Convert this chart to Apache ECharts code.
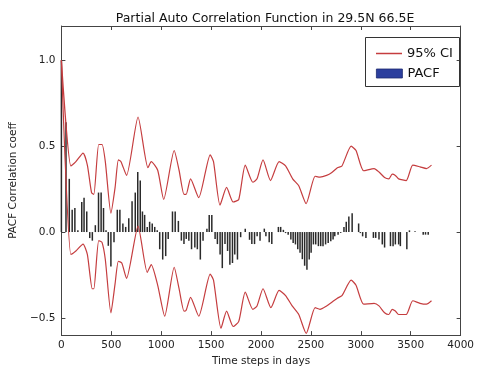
<!DOCTYPE html>
<html>
<head>
<meta charset="utf-8">
<script src="https://cdn.jsdelivr.net/npm/echarts@6/dist/echarts.min.js"></script>
<style>
html,body{margin:0;padding:0;background:#fff;}
#chart{width:477px;height:372px;}
</style>
</head>
<body>
<div id="chart"></div>
<script>
// ---- data ----
const titleText = 'Partial Auto Correlation Function in 29.5N 66.5E';
const xAxisName = 'Time steps in days';
const yAxisName = 'PACF Correlation coeff';
const yTickValues = [-0.5, 0, 0.5, 1.0];

const pacfLags = [0,46,79,108,135,165,204,227,254,284,310,340,372,398,422,447,470,496,527,560,586,616,644,675,708,740,765,790,812,834,860,884,910,935,960,985,1015,1045,1070,
  1113,1140,1172,1202,1228,1251,1277,1304,1337,1362,1392,1419,1458,1481,1507,1540,1563,1590,1612,1639,1665,1688,1714,1737,1764,1796,1842,1885,1908,1935,1961,
  1990,2033,2049,2082,2108,2174,2197,2224,2246,2272,2299,2322,2345,2368,2391,2414,2437,2460,2483,2502,2525,2548,2575,2598,2621,2647,2673,2699,2722,2739,2772,2798,
  2831,2854,2880,2913,2978,2995,3018,3051,3126,3149,3182,3215,3238,3297,3323,3346,3379,3396,3461,3487,3543,3625,3648,3675];
const pacfValues = [1.0,0.64,0.31,0.13,0.14,0.01,0.175,0.20,0.12,-0.035,-0.05,0.04,0.23,0.23,0.14,0.01,-0.08,-0.20,-0.06,0.13,0.13,0.05,0.03,0.08,0.18,0.23,0.35,0.30,0.12,0.10,0.03,0.06,0.05,0.03,0.01,-0.10,-0.16,-0.14,-0.04,
  0.12,0.12,0.065,-0.05,-0.07,-0.04,-0.05,-0.10,-0.09,-0.10,-0.16,-0.05,0.02,0.10,0.10,-0.04,-0.07,-0.13,-0.21,-0.07,-0.11,-0.19,-0.18,-0.13,-0.16,-0.03,0.02,-0.045,-0.07,-0.07,-0.025,
  -0.05,0.02,-0.025,-0.06,-0.07,0.03,0.03,0.013,-0.006,-0.015,-0.044,-0.063,-0.072,-0.10,-0.12,-0.158,-0.196,-0.22,-0.16,-0.12,-0.072,-0.072,-0.082,-0.082,-0.082,-0.072,-0.063,-0.053,-0.044,-0.025,-0.015,-0.005,
  0.03,0.06,0.09,0.11,0.05,-0.006,-0.025,-0.034,-0.034,-0.034,-0.044,-0.072,-0.09,-0.082,-0.082,-0.072,-0.072,-0.082,-0.10,0.01,0.005,-0.015,-0.015,-0.015];

const ciUpperX = [0,95,145,217,260,302,325,374,407,440,496,538,571,597,653,768,867,900,965,1025,1130,1179,1228,1250,1294,1376,1491,1524,1589,1655,1721,1777,1842,1918,1960,2020,2095,2181,2246,2317,2378,2452,2542,2591,2657,2706,2765,2811,2903,2952,3028,3133,3182,3238,3281,3314,3346,3379,3455,3520,3593,3658,3708];
const ciUpperY = [1.0,0.385,0.41,0.46,0.39,0.23,0.22,0.51,0.51,0.41,0.11,0.26,0.42,0.41,0.33,0.67,0.375,0.41,0.36,0.19,0.475,0.36,0.22,0.22,0.31,0.20,0.45,0.41,0.157,0.26,0.175,0.19,0.39,0.29,0.31,0.42,0.30,0.41,0.385,0.31,0.27,0.166,0.325,0.32,0.33,0.345,0.375,0.385,0.50,0.475,0.357,0.37,0.35,0.318,0.31,0.337,0.33,0.31,0.30,0.39,0.38,0.37,0.39];

const ciLowerX = [0,35,95,145,217,260,309,325,374,407,440,496,538,571,605,653,768,860,900,965,1035,1130,1179,1228,1250,1294,1376,1491,1524,1599,1655,1721,1777,1842,1918,1960,2020,2099,2181,2246,2312,2378,2453,2542,2591,2657,2706,2765,2811,2903,2952,3028,3133,3182,3238,3281,3314,3346,3379,3455,3520,3593,3658,3708];
const ciLowerY = [1.0,0.45,-0.13,-0.11,-0.07,-0.13,-0.33,-0.33,-0.05,-0.06,-0.16,-0.47,-0.30,-0.17,-0.18,-0.27,0.035,-0.235,-0.19,-0.31,-0.49,-0.205,-0.33,-0.46,-0.455,-0.38,-0.49,-0.245,-0.28,-0.56,-0.46,-0.55,-0.52,-0.35,-0.45,-0.43,-0.33,-0.44,-0.34,-0.37,-0.43,-0.48,-0.59,-0.44,-0.45,-0.43,-0.41,-0.385,-0.37,-0.28,-0.31,-0.42,-0.415,-0.43,-0.47,-0.48,-0.45,-0.46,-0.48,-0.48,-0.40,-0.415,-0.42,-0.40];

// ---- chart ----
const zip = (xs, ys) => xs.map((x, i) => [x, ys[i]]);
const FONT = 'DejaVu Sans';
const RED = '#c53d3f';
const AXIS = '#444';
const chart = echarts.init(document.getElementById('chart'), null, {renderer: 'canvas'});

const baseX = {
  type: 'value', min: 0, max: 4000, interval: 500,
  axisLine: {show: true, onZero: false, lineStyle: {color: AXIS, width: 1}},
  axisTick: {show: true, inside: true, length: 4, lineStyle: {color: AXIS}},
  splitLine: {show: false}
};
const baseY = {
  type: 'value', min: -0.6, max: 1.2,
  axisLine: {show: true, onZero: false, lineStyle: {color: AXIS, width: 1}},
  axisTick: {show: true, inside: true, length: 4, lineStyle: {color: AXIS}, customValues: yTickValues},
  splitLine: {show: false}
};
const fmtY = v => (Math.abs(v) < 1e-9 ? '0.0' : v.toFixed(1).replace('-', '\u2212'));
const fmtX = v => String(Math.round(v));

chart.setOption({
  animation: false,
  backgroundColor: '#fff',
  title: {
    text: titleText, left: 260, top: 7, textAlign: 'center',
    textStyle: {fontFamily: FONT, fontSize: 12.5, fontWeight: 'normal', color: '#111'}
  },
  grid: {left: 57, top: 26, right: 14, bottom: 31, containLabel: false},
  legend: [
    {
      data: ['95% CI'], left: 371, top: 42, icon: 'rect', itemWidth: 26, itemHeight: 1.5,
      selectedMode: false, textStyle: {fontFamily: FONT, fontSize: 13, color: '#111'}
    },
    {
      data: [{name: 'PACF', itemStyle: {color: '#2c3f9e', borderColor: '#1c2a70', borderWidth: 0.8}}],
      left: 371, top: 62, icon: 'rect', itemWidth: 26, itemHeight: 9,
      selectedMode: false, textStyle: {fontFamily: FONT, fontSize: 13, color: '#111'}
    }
  ],
  graphic: [{
    type: 'rect', left: 363, top: 35, z: 10, silent: true,
    shape: {width: 94, height: 49},
    style: {fill: 'none', stroke: '#333', lineWidth: 1}
  }],
  xAxis: [
    Object.assign({}, baseX, {
      position: 'bottom',
      name: xAxisName, nameLocation: 'middle', nameGap: 16,
      nameTextStyle: {fontFamily: FONT, fontSize: 10.5, color: '#222'},
      axisLabel: {show: true, margin: 5, fontFamily: FONT, fontSize: 10.5, color: '#222', formatter: fmtX}
    }),
    Object.assign({}, baseX, {position: 'top', axisLabel: {show: false}})
  ],
  yAxis: [
    Object.assign({}, baseY, {
      position: 'left',
      name: yAxisName, nameLocation: 'middle', nameGap: 33,
      nameTextStyle: {fontFamily: FONT, fontSize: 10.5, color: '#222'},
      axisLabel: {show: true, margin: 6, fontFamily: FONT, fontSize: 10.5, color: '#222', customValues: yTickValues, formatter: fmtY}
    }),
    Object.assign({}, baseY, {position: 'right', axisLabel: {show: false}})
  ],
  series: [
    {
      name: 'PACF', type: 'bar', xAxisIndex: 0, yAxisIndex: 0,
      data: zip(pacfLags, pacfValues), barWidth: 1.5,
      itemStyle: {color: '#2a2a2a'}, z: 2
    },
    {
      name: '95% CI', type: 'line', xAxisIndex: 0, yAxisIndex: 0,
      data: zip(ciUpperX, ciUpperY), showSymbol: false, symbol: 'none', smooth: 0.2,
      itemStyle: {color: RED}, lineStyle: {color: RED, width: 1.2}, z: 3
    },
    {
      name: '95% CI', type: 'line', xAxisIndex: 0, yAxisIndex: 0,
      data: zip(ciLowerX, ciLowerY), showSymbol: false, symbol: 'none', smooth: 0.2,
      itemStyle: {color: RED}, lineStyle: {color: RED, width: 1.2}, z: 3
    }
  ]
});
</script>
</body>
</html>
